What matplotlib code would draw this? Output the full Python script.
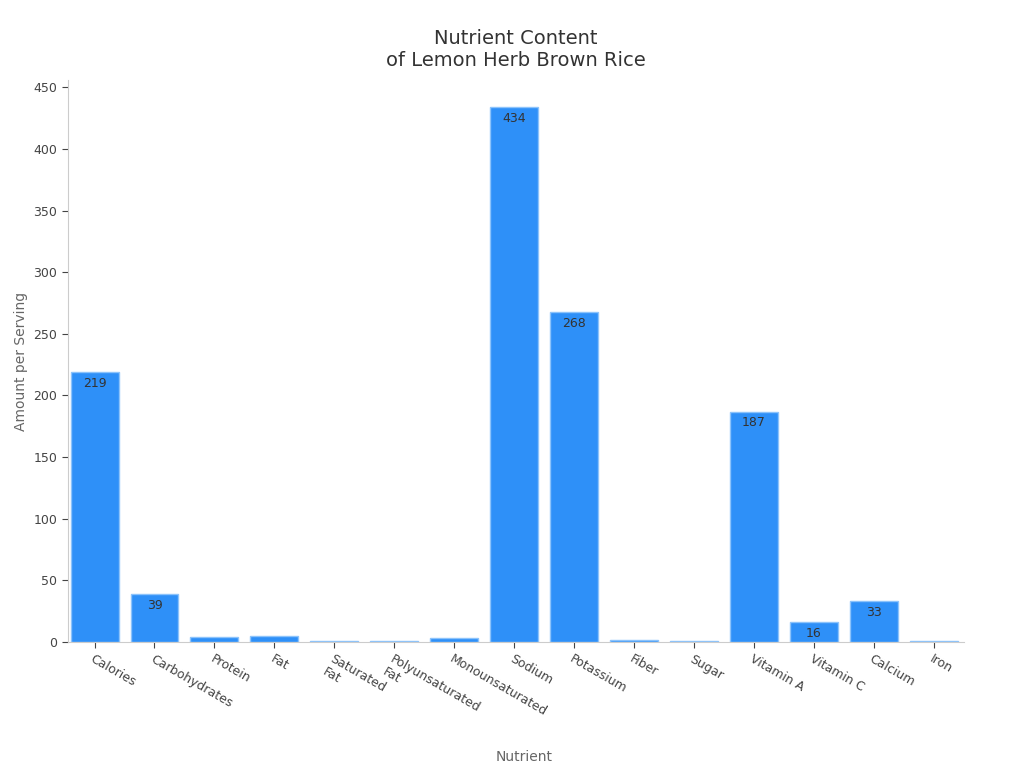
import matplotlib
matplotlib.use("Agg")
import matplotlib.pyplot as plt

nutrients = ["Calories", "Carbohydrates", "Protein", "Fat", "Saturated\nFat", "Polyunsaturated\nFat",
             "Monounsaturated", "Sodium", "Potassium", "Fiber", "Sugar", "Vitamin A", "Vitamin C", "Calcium", "Iron"]
values = [219, 39, 4, 5, 1, 1, 3, 434, 268, 2, 1, 187, 16, 33, 1]

fig = plt.figure(figsize=(10.24, 7.68), dpi=100)
ax = fig.add_axes([0.066, 0.164, 0.875, 0.732])
x = range(len(values))
bars = ax.bar(x, values, width=0.8, color="#2E90F8", edgecolor="#8CC3FB", linewidth=1)
for xi, v in zip(x, values):
    if v >= 10:
        ax.text(xi, v - 4, f"{v}", ha="center", va="top", fontsize=9, color="#333333")
ax.set_xlim(-0.45, 14.5)
ax.set_ylim(0, 456)
ax.set_yticks(range(0, 451, 50))
ax.set_xticks(list(x))
ax.set_xticklabels(nutrients, rotation=-30, ha="left", rotation_mode="anchor", fontsize=9, color="#222222")
ax.tick_params(axis="y", labelsize=9, colors="#222222")
ax.tick_params(colors="#444444", length=4, width=0.8)
for s in ["top", "right"]:
    ax.spines[s].set_visible(False)
for s in ["left", "bottom"]:
    ax.spines[s].set_color("#cccccc")
ax.set_xlabel("Nutrient", fontsize=10, color="#666666")
ax.xaxis.set_label_coords(0.51, -0.192)
ax.set_ylabel("Amount per Serving", fontsize=10, color="#666666")
ax.set_title("Nutrient Content\nof Lemon Herb Brown Rice", fontsize=14, color="#333333", pad=10)
fig.savefig("out.png", dpi=100)
